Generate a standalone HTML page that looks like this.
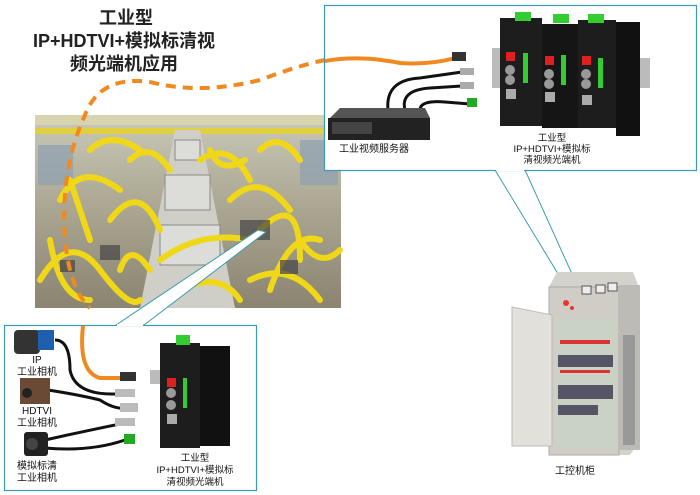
<!DOCTYPE html>
<html><head><meta charset="utf-8"><style>
body{margin:0;background:#fff;}
svg{display:block;font-family:"Liberation Sans","Noto Sans CJK SC",sans-serif;}
</style></head><body>
<svg width="700" height="495" viewBox="0 0 700 495" xmlns="http://www.w3.org/2000/svg">
<defs>
<linearGradient id="ph" x1="0" y1="0" x2="0" y2="1"><stop offset="0" stop-color="#c9c8b8"/><stop offset="0.4" stop-color="#b0ac98"/><stop offset="1" stop-color="#8a8470"/></linearGradient>
</defs>
<text x="126" y="24" font-size="18" font-weight="bold" text-anchor="middle" fill="#222">工业型</text>
<text x="124" y="47" font-size="18" font-weight="bold" text-anchor="middle" fill="#222">IP+HDTVI+模拟标清视</text>
<text x="124" y="70" font-size="18" font-weight="bold" text-anchor="middle" fill="#222">频光端机应用</text>

<!-- photo -->
<rect x="35" y="115" width="306" height="193" fill="url(#ph)"/>
<rect x="35" y="115" width="306" height="10" fill="#d8d4b0"/>
<rect x="35" y="128" width="306" height="6" fill="#e0d040"/>
<g fill="#8da0b0" opacity="0.7"><rect x="38" y="145" width="35" height="40"/><rect x="300" y="140" width="38" height="45"/></g>
<polygon points="175,130 200,130 235,308 140,308" fill="#cfcfc8"/>
<g fill="#dcdcd8" stroke="#888" stroke-width="1"><rect x="165" y="175" width="45" height="35"/><rect x="160" y="225" width="60" height="40"/><rect x="175" y="140" width="25" height="20"/></g>
<g fill="none" stroke="#f0d818" stroke-width="6" stroke-linecap="round">
<path d="M40 280 Q70 230 100 270 T140 300"/><path d="M60 200 Q80 160 120 190"/><path d="M110 220 Q140 180 160 230"/>
<path d="M130 160 Q150 140 170 170"/><path d="M200 160 Q230 140 250 180"/><path d="M230 200 Q260 170 290 210"/>
<path d="M160 260 Q200 230 250 240"/><path d="M260 230 Q300 190 300 260"/><path d="M250 280 Q290 260 320 300"/>
<path d="M50 240 Q60 300 90 300"/><path d="M300 240 Q320 270 340 250"/><path d="M90 150 Q110 130 140 150"/>
<path d="M260 150 Q280 130 300 160"/><path d="M180 290 Q220 270 240 300"/><path d="M70 180 L90 240"/>
<path d="M120 270 Q130 240 150 270"/><path d="M210 150 Q220 175 245 160"/><path d="M270 290 Q290 230 320 240"/>
</g>
<g fill="#444" opacity="0.7"><rect x="240" y="220" width="30" height="20"/><rect x="100" y="245" width="20" height="15"/><rect x="60" y="260" width="15" height="12"/><rect x="280" y="260" width="18" height="14"/></g>

<path d="M325 60 Q300 65 260 80 Q200 95 150 82 Q100 75 85 115 Q60 170 65 240 Q70 290 90 308" fill="none" stroke="#f08a20" stroke-width="4" stroke-dasharray="10,7"/>

<!-- top-right box -->
<polygon points="495,170 597,338 601,338 525,170" fill="#fff" stroke="#3a9cb0" stroke-width="1"/>
<rect x="324.5" y="5.5" width="372" height="165" fill="#fff" stroke="#3a9cb0" stroke-width="1.2"/>
<line x1="496" y1="170" x2="524" y2="170" stroke="#fff" stroke-width="2"/>
<path d="M325 61 Q360 55 400 63 Q430 65 455 58" fill="none" stroke="#f08a20" stroke-width="4"/>
<rect x="452" y="52" width="14" height="9" fill="#333"/>
<g fill="none" stroke="#111" stroke-width="3">
<path d="M388 110 Q385 80 420 78 L462 72"/><path d="M405 110 Q400 90 430 88 L462 86"/><path d="M420 110 Q420 100 445 102 L470 104"/>
</g>
<rect x="460" y="68" width="14" height="7" fill="#aaa"/><rect x="460" y="82" width="14" height="7" fill="#aaa"/><rect x="467" y="98" width="10" height="9" fill="#2a2"/>
<polygon points="330,118 340,108 425,108 430,118" fill="#555"/>
<rect x="328" y="118" width="102" height="22" fill="#222"/>
<rect x="332" y="122" width="40" height="12" fill="#444"/>
<text x="374" y="152" font-size="10" text-anchor="middle" fill="#111">工业视频服务器</text>
<rect x="492" y="48" width="10" height="40" fill="#bbb"/><rect x="640" y="58" width="10" height="30" fill="#bbb"/>
<g>
<rect x="500" y="18" width="42" height="108" fill="#1d1d1d"/><rect x="542" y="24" width="36" height="104" fill="#151515"/>
<rect x="578" y="20" width="38" height="108" fill="#1d1d1d"/><rect x="616" y="22" width="24" height="114" fill="#111"/>
<rect x="515" y="12" width="16" height="9" fill="#3c3"/><rect x="553" y="14" width="16" height="9" fill="#3c3"/><rect x="588" y="14" width="16" height="9" fill="#3c3"/>
<rect x="506" y="52" width="9" height="9" fill="#e02020"/><rect x="545" y="56" width="9" height="9" fill="#e02020"/><rect x="582" y="56" width="9" height="9" fill="#e02020"/>
<circle cx="510" cy="70" r="5" fill="#999"/><circle cx="510" cy="80" r="5" fill="#999"/><circle cx="549" cy="74" r="5" fill="#999"/><circle cx="549" cy="84" r="5" fill="#999"/><circle cx="586" cy="74" r="5" fill="#999"/><circle cx="586" cy="84" r="5" fill="#999"/>
<rect x="506" y="89" width="10" height="10" fill="#aaa"/><rect x="545" y="92" width="10" height="10" fill="#aaa"/><rect x="582" y="95" width="10" height="10" fill="#aaa"/>
<rect x="523" y="53" width="5" height="30" fill="#3c3"/><rect x="561" y="55" width="5" height="30" fill="#3c3"/><rect x="598" y="58" width="5" height="30" fill="#3c3"/>
</g>
<text x="552" y="141" font-size="9.5" text-anchor="middle" fill="#111">工业型</text>
<text x="552" y="152" font-size="9.5" text-anchor="middle" fill="#111">IP+HDTVI+模拟标</text>
<text x="552" y="163" font-size="9.5" text-anchor="middle" fill="#111">清视频光端机</text>

<!-- bottom-left box -->
<polygon points="116,325 258,230 266,232 144,325" fill="#fff" stroke="#3a9cb0" stroke-width="1"/>
<rect x="4.5" y="325.5" width="252" height="165" fill="#fff" stroke="#3a9cb0" stroke-width="1.2"/>
<line x1="117" y1="325" x2="143" y2="325" stroke="#fff" stroke-width="2"/>
<path d="M83 326 Q78 372 100 378 L122 378" fill="none" stroke="#f08a20" stroke-width="4"/>
<rect x="120" y="372" width="16" height="9" fill="#333"/>
<g fill="none" stroke="#111" stroke-width="3">
<path d="M55 340 Q70 340 70 370 Q75 395 115 394"/><path d="M48 390 Q80 395 100 400 Q115 410 128 408"/>
<path d="M45 440 Q90 430 130 422"/><path d="M45 448 Q90 452 125 440"/>
</g>
<rect x="115" y="389" width="20" height="8" fill="#bbb"/><rect x="120" y="403" width="18" height="9" fill="#bbb"/><rect x="115" y="418" width="20" height="8" fill="#bbb"/><rect x="124" y="434" width="11" height="10" fill="#2a2"/>
<rect x="14" y="330" width="26" height="24" rx="4" fill="#333"/><rect x="38" y="330" width="16" height="20" fill="#1f5faf"/>
<text x="37" y="363" font-size="10" text-anchor="middle" fill="#111">IP</text>
<text x="37" y="375" font-size="10" text-anchor="middle" fill="#111">工业相机</text>
<rect x="20" y="378" width="30" height="26" fill="#6a4a35"/><circle cx="27" cy="393" r="5" fill="#222"/>
<text x="37" y="414" font-size="10" text-anchor="middle" fill="#111">HDTVI</text>
<text x="37" y="426" font-size="10" text-anchor="middle" fill="#111">工业相机</text>
<rect x="24" y="432" width="24" height="24" rx="3" fill="#222"/><circle cx="32" cy="444" r="6" fill="#444"/>
<text x="37" y="469" font-size="10" text-anchor="middle" fill="#111">模拟标清</text>
<text x="37" y="481" font-size="10" text-anchor="middle" fill="#111">工业相机</text>
<rect x="150" y="370" width="80" height="14" fill="#bbb"/>
<rect x="160" y="343" width="40" height="105" fill="#1d1d1d"/><rect x="200" y="346" width="30" height="100" fill="#111"/>
<rect x="176" y="335" width="14" height="10" fill="#3c3"/>
<rect x="167" y="378" width="9" height="9" fill="#e02020"/><circle cx="171" cy="393" r="5" fill="#999"/><circle cx="171" cy="405" r="5" fill="#999"/>
<rect x="167" y="414" width="10" height="10" fill="#aaa"/><rect x="183" y="378" width="4" height="30" fill="#3c3"/>
<text x="195" y="461" font-size="9.5" text-anchor="middle" fill="#111">工业型</text>
<text x="195" y="473" font-size="9.5" text-anchor="middle" fill="#111">IP+HDTVI+模拟标</text>
<text x="195" y="485" font-size="9.5" text-anchor="middle" fill="#111">清视频光端机</text>

<!-- cabinet -->
<polygon points="549,287 557,272 633,272 640,290 640,440 630,455 549,455" fill="#d4d2cc"/>
<rect x="549" y="287" width="70" height="168" fill="#cfcdc6" stroke="#aaa"/>
<rect x="619" y="285" width="21" height="165" fill="#bdbbb5"/>
<rect x="623" y="335" width="12" height="110" fill="#999"/>
<polygon points="512,307 552,315 552,446 512,446" fill="#e2e0da" stroke="#bbb"/>
<rect x="555" y="318" width="60" height="130" fill="#c9d2c4"/>
<g fill="#556"><rect x="558" y="355" width="55" height="12"/><rect x="558" y="385" width="55" height="14"/><rect x="558" y="405" width="40" height="10"/></g>
<g fill="#d33"><rect x="560" y="340" width="50" height="4"/><rect x="560" y="370" width="50" height="3"/></g>
<rect x="582" y="286" width="9" height="8" fill="#eee" stroke="#555"/><rect x="596" y="285" width="9" height="8" fill="#eee" stroke="#555"/><rect x="608" y="283" width="9" height="8" fill="#eee" stroke="#555"/>
<circle cx="566" cy="303" r="3" fill="#e33"/><circle cx="572" cy="308" r="2" fill="#e33"/>
<text x="575" y="474" font-size="10" text-anchor="middle" fill="#111">工控机柜</text>
</svg>
</body></html>
